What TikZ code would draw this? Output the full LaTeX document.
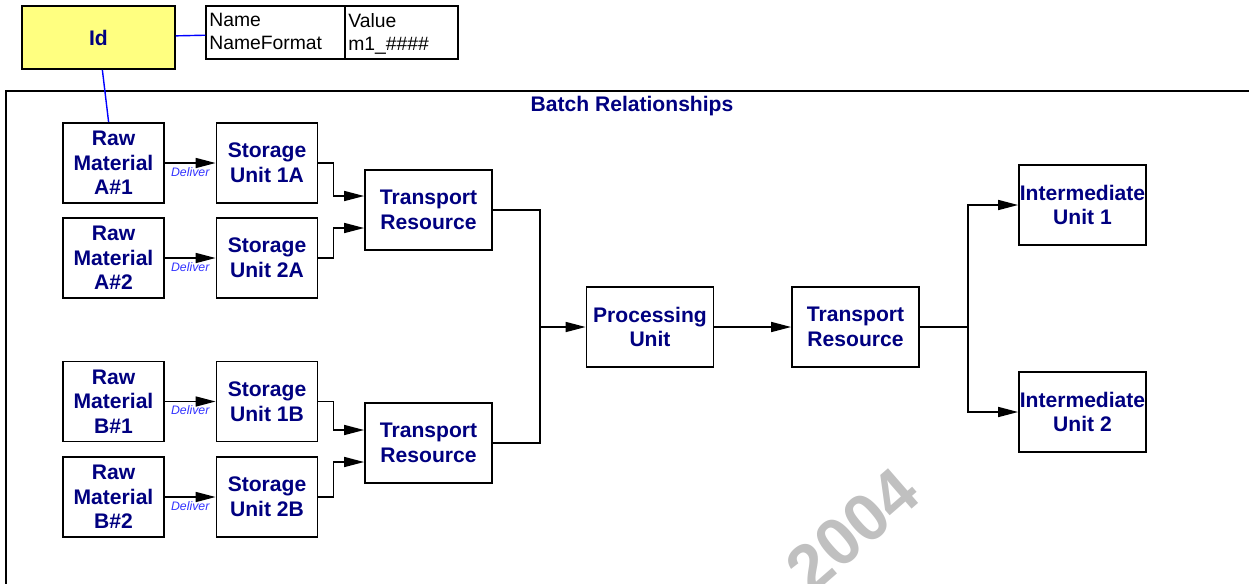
\documentclass[tikz,border=0pt]{standalone}
\usepackage{fontspec}
\setmainfont{Liberation Sans}
\definecolor{navy}{RGB}{0,0,128}
\definecolor{idfill}{RGB}{255,255,128}
\definecolor{linkblue}{RGB}{0,0,255}
\definecolor{labelblue}{RGB}{51,51,255}
\definecolor{stamp}{RGB}{192,192,192}
\usetikzlibrary{arrows.meta,calc}

\begin{document}
\begin{tikzpicture}[x=0.02cm, y=-0.02cm,
    unit/.style={draw, line width=1pt, fill=white, inner sep=0pt,
      minimum width=2.02cm, minimum height=1.6cm, align=center,
      text=navy, font=\bfseries\fontsize{12}{14}\selectfont},
    wide/.style={unit, minimum width=2.54cm},
    cell/.style={inner sep=0pt, align=left, anchor=north west,
      font=\fontsize{11}{13}\selectfont},
    wire/.style={line width=0.9pt},
    flow/.style={wire, -{Triangle[length=4mm,width=2mm]}},
    link/.style={linkblue, line width=0.8pt},
    deliver/.style={below, text=labelblue, inner sep=2pt,
      font=\itshape\fontsize{7}{8}\selectfont}]
  \useasboundingbox (0,0) rectangle (1249,583);
  \clip (0,0) rectangle (1249,583);

  % stamp behind everything
  \node[rotate=41, text=stamp, font=\bfseries\fontsize{38}{38}\selectfont] (stamp) at (852,530) {2004};

  % outer frame and title
  \draw[line width=1pt] (6,91) rectangle (1300,640);
  \node[text=navy, font=\bfseries\fontsize{12}{14}\selectfont] (title) at (632,106) {Batch Relationships};

  % id box and its property table
  \node[unit, fill=idfill, minimum width=3.06cm, minimum height=1.26cm] (id) at (98.5,37.5) {Id};
  \node[draw, line width=0.8pt, minimum width=5.04cm, minimum height=1.06cm] (props) at (332,32.5) {};
  \draw[line width=0.8pt] (345,6) -- (345,59);
  \node[cell] (keys) at (209,13) {Name\\NameFormat};
  \node[cell] (vals) at (348,13) {Value\\m1\_\#\#\#\#};

  % raw materials
  \node[unit] (rawA1) at (113.5,163) {Raw\\Material\\A\#1};
  \node[unit] (rawA2) at (113.5,258) {Raw\\Material\\A\#2};
  \node[unit] (rawB1) at (113.5,401.5) {Raw\\Material\\B\#1};
  \node[unit] (rawB2) at (113.5,497) {Raw\\Material\\B\#2};

  % storage units
  \node[unit] (stoA1) at (267,163) {Storage\\Unit 1A};
  \node[unit] (stoA2) at (267,258) {Storage\\Unit 2A};
  \node[unit] (stoB1) at (267,401.5) {Storage\\Unit 1B};
  \node[unit] (stoB2) at (267,497) {Storage\\Unit 2B};

  % transport, processing, intermediates
  \node[wide] (transA) at (428.5,210) {Transport\\Resource};
  \node[wide] (transB) at (428.5,443) {Transport\\Resource};
  \node[wide] (proc) at (650,327) {Processing\\Unit};
  \node[wide] (transC) at (855.5,327) {Transport\\Resource};
  \node[wide] (inter1) at (1082.5,205) {Intermediate\\Unit 1};
  \node[wide] (inter2) at (1082.5,412) {Intermediate\\Unit 2};

  \coordinate (merge) at (540,327);
  \coordinate (split) at (968,327);

  % blue links
  \draw[link] (id) -- (props);
  \draw[link] (id) -- (rawA1);

  % deliveries
  \draw[flow] (rawA1) -- node[deliver] {Deliver} (stoA1);
  \draw[flow] (rawA2) -- node[deliver] {Deliver} (stoA2);
  \draw[flow] (rawB1) -- node[deliver] {Deliver} (stoB1);
  \draw[flow] (rawB2) -- node[deliver] {Deliver} (stoB2);

  % storage to transport
  \draw[flow] (stoA1.east) -- ++(15,0) |- ($(transA.west)+(0,-14)$);
  \draw[flow] (stoA2.east) -- ++(15,0) |- ($(transA.west)+(0,18)$);
  \draw[flow] (stoB1.east) -- ++(15,0) |- ($(transB.west)+(0,-13)$);
  \draw[flow] (stoB2.east) -- ++(15,0) |- ($(transB.west)+(0,19)$);

  % transport to processing
  \draw[wire] (transA.east) -| (merge);
  \draw[wire] (transB.east) -| (merge);
  \draw[flow] (merge) -- (proc);
  \draw[flow] (proc) -- (transC);

  % out to intermediates
  \draw[wire] (transC) -- (split);
  \draw[flow] (split) |- (inter1);
  \draw[flow] (split) |- (inter2);
\end{tikzpicture}
\end{document}
